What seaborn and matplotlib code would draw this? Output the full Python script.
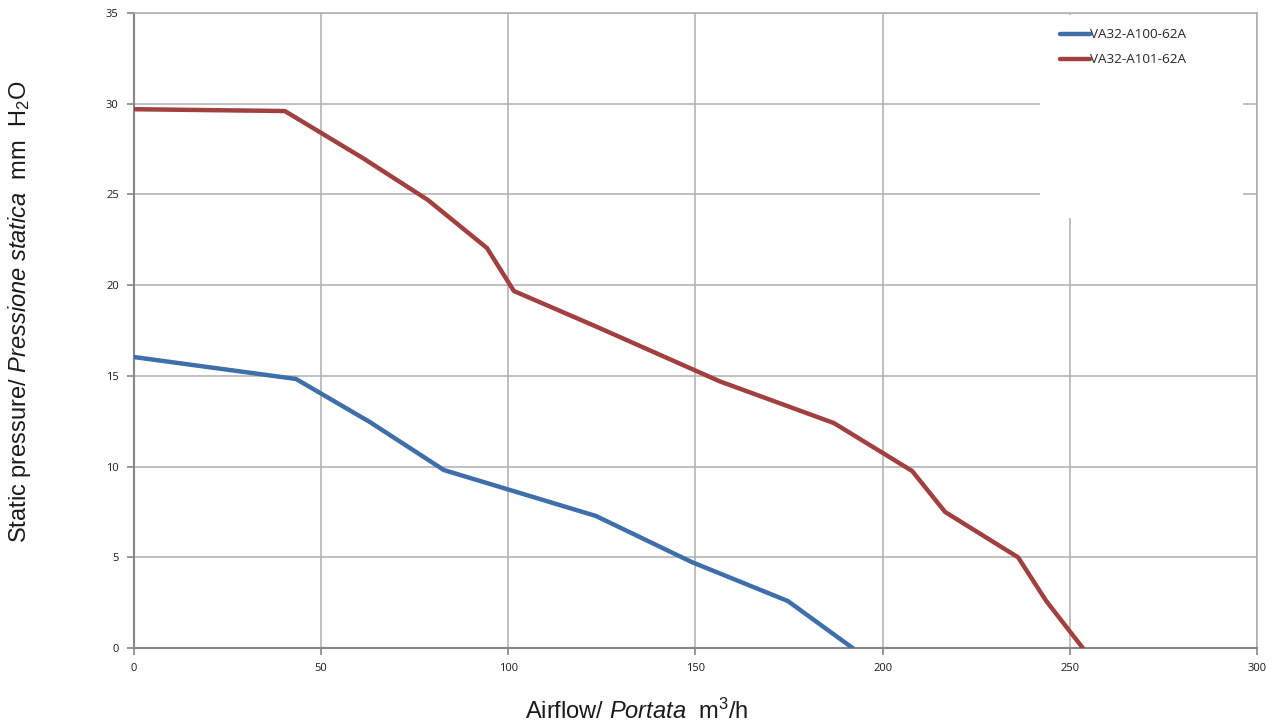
#!/usr/bin/env python3
"""Fan curves: static pressure vs airflow for two VA32 models."""
import pandas as pd
import seaborn as sns
import matplotlib.pyplot as plt
from matplotlib.patches import Rectangle

# curve points
a100_flow = [0, 43.3, 63, 82.8, 123.4, 149, 174.7, 192]
a100_pres = [16.04, 14.83, 12.46, 9.81, 7.28, 4.74, 2.59, 0]
a101_flow = [0, 40.3, 61.2, 78.5, 94.3, 101.5, 123.7, 156.5, 187, 207.9, 216.7, 236.2, 243.7, 253.5]
a101_pres = [29.7, 29.6, 27.0, 24.7, 22.05, 19.68, 17.7, 14.7, 12.4, 9.76, 7.5, 5.0, 2.6, 0]
models = ["VA32-A100-62A", "VA32-A101-62A"]
x_ticks = [0, 50, 100, 150, 200, 250, 300]
y_ticks = [0, 5, 10, 15, 20, 25, 30, 35]

df = pd.concat([
    pd.DataFrame({"flow": a100_flow, "pres": a100_pres, "model": models[0]}),
    pd.DataFrame({"flow": a101_flow, "pres": a101_pres, "model": models[1]}),
])

sns.set_theme(style="white")
plt.rcParams["font.family"] = ["Liberation Sans", "DejaVu Sans"]
plt.rcParams["mathtext.fontset"] = "custom"
plt.rcParams["mathtext.rm"] = "Liberation Sans"
plt.rcParams["mathtext.it"] = "Liberation Sans:italic"

palette = {models[0]: "#3F6FAA", models[1]: "#A23F3F"}

fig = plt.figure(figsize=(12.76, 7.26), dpi=100)
ax = fig.add_axes([0.105, 0.1074, 0.880, 0.8746])

sns.lineplot(data=df, x="flow", y="pres", hue="model", palette=palette,
             linewidth=3.2, sort=False, ax=ax, zorder=4)

ax.set_xlim(0, 300); ax.set_ylim(0, 35)
ax.set_xticks(x_ticks); ax.set_yticks(y_ticks)
ax.grid(True, color="#ADADAD", linewidth=1.1, zorder=0)
ax.set_axisbelow(True)
for s in ax.spines.values():
    s.set_color("#ADADAD"); s.set_linewidth(1.1)
for s in ("left", "bottom"):
    ax.spines[s].set_color("#868686"); ax.spines[s].set_linewidth(1.5)
ax.tick_params(axis="both", which="major", length=5, width=1.2, color="#868686",
               labelsize=8, labelcolor="#1a1a1a", pad=6, bottom=True, left=True)
for lab in ax.get_xticklabels() + ax.get_yticklabels():
    lab.set_fontfamily(["Open Sans", "DejaVu Sans"])

# white legend area that hides part of the grid
ax.add_patch(Rectangle((0.807, 0.677), 0.181, 0.32, transform=ax.transAxes,
                       facecolor="white", edgecolor="none", zorder=2))

leg = ax.legend(loc="upper left", bbox_to_anchor=(0.814, 0.995), frameon=False,
                handlelength=2.2, handletextpad=0.0, labelspacing=0.9,
                prop={"family": "Open Sans", "size": 9.7})
for h in leg.get_lines():
    h.set_linewidth(3.2)
    h.set_solid_capstyle("round")

ax.set_xlabel(""); ax.set_ylabel("")
fig.text(525 / 1276, 1 - 711 / 726, r"Airflow/ $\it{Portata}$  m$^3$/h",
         fontsize=17, ha="left", va="center", color="#1a1a1a")
fig.text(20 / 1276, 1 - 312 / 726, r"Static pressure/ $\it{Pressione\ statica}$  mm  H$_2$O",
         fontsize=17, ha="center", va="center", rotation=90, color="#1a1a1a")

fig.savefig("out.png", dpi=100)
